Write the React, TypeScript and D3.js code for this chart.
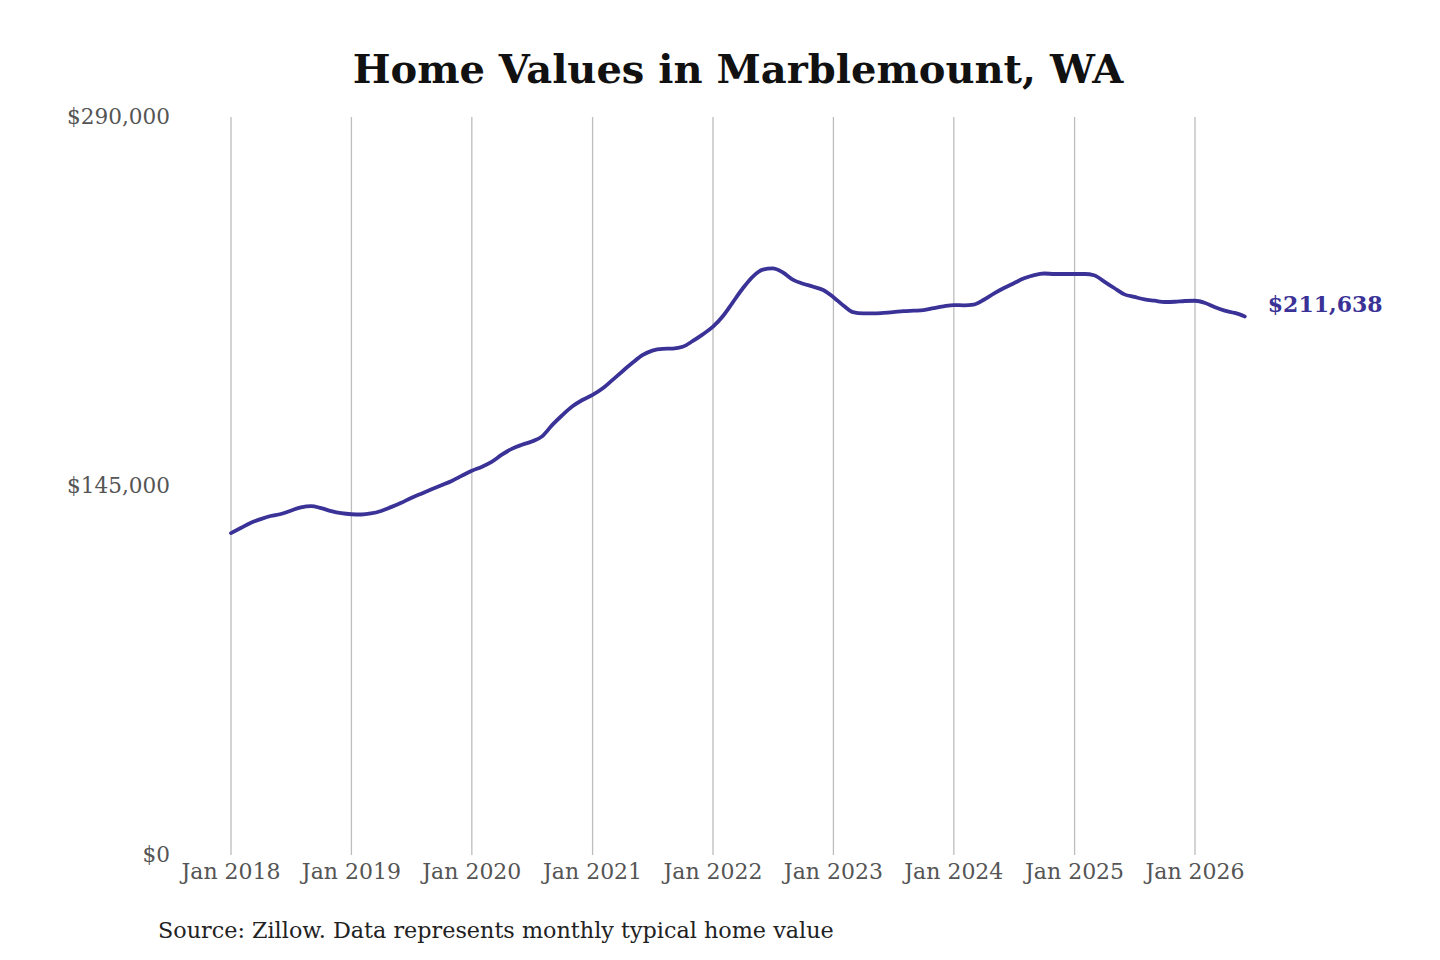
import { useRef, useEffect } from "react";
import * as d3 from "d3";

// monthly typical home value, Jan 2018 .. Jun 2026
const startMonth = new Date(2018, 0, 1);
const homeValues = [
  126500, 128600, 130500, 132000, 133200, 134000, 135300, 136600, 137100, 136300,
  135100, 134300, 133900, 133800, 134200, 135200, 136700, 138400, 140300, 142000,
  143700, 145300, 147000, 149000, 151000, 152600, 154500, 157300, 159600, 161200,
  162500, 164500, 169000, 172800, 176300, 178800, 180800, 183400, 186500, 190000,
  193300, 196400, 198200, 198900, 199000, 199700, 202000, 204600, 207600, 211900,
  217000, 222600, 227200, 230000, 230500, 228900, 226000, 224500, 223300, 222000,
  219200, 215800, 213300, 212800, 212800, 213000, 213300, 213700, 213900, 214100,
  214900, 215600, 216100, 216000, 216300, 218200, 220600, 222800, 224700, 226600,
  227900, 228500, 228300, 228300, 228300, 228300, 227800, 225300, 222800, 220300,
  219300, 218300, 217800, 217300, 217400, 217700, 217800, 216900, 215300, 213900,
  213000, 211638,
];
const yTicks = [0, 145000, 290000];
const xTickYears = [2018, 2019, 2020, 2021, 2022, 2023, 2024, 2025, 2026];

const titleText = "Home Values in Marblemount, WA";
const sourceText = "Source: Zillow. Data represents monthly typical home value";

const App = () => {
  const svgRef = useRef<SVGSVGElement>(null);

  useEffect(() => {
    const width = 1440;
    const height = 960;
    const lineColor = "#3a3296";
    const font = "'DejaVu Serif', serif";

    const data = homeValues.map((v, i) => ({
      date: d3.timeMonth.offset(startMonth, i),
      value: v,
    }));

    const svg = d3.select(svgRef.current);
    svg.selectAll("*").remove();
    svg.attr("width", width).attr("height", height).attr("viewBox", `0 0 ${width} ${height}`);

    svg.append("rect").attr("width", width).attr("height", height).attr("fill", "#ffffff");

    const x = d3
      .scaleTime()
      .domain([new Date(2018, 0, 1), new Date(2026, 0, 1)])
      .range([231, 1195]);

    const y = d3.scaleLinear().domain([0, 290000]).range([855, 117]);

    // vertical gridlines
    svg
      .append("g")
      .selectAll("line")
      .data(xTickYears)
      .join("line")
      .attr("x1", (d) => x(new Date(d, 0, 1)))
      .attr("x2", (d) => x(new Date(d, 0, 1)))
      .attr("y1", y(290000))
      .attr("y2", y(0))
      .attr("stroke", "#bdbdbd")
      .attr("stroke-width", 1.3);

    // x labels
    svg
      .append("g")
      .selectAll("text")
      .data(xTickYears)
      .join("text")
      .attr("x", (d) => x(new Date(d, 0, 1)))
      .attr("y", 879)
      .attr("text-anchor", "middle")
      .attr("font-family", font)
      .attr("font-size", 22)
      .attr("fill", "#555")
      .text((d) => `Jan ${d}`);

    // y labels
    svg
      .append("g")
      .selectAll("text")
      .data(yTicks)
      .join("text")
      .attr("x", 170)
      .attr("y", (d) => y(d) + 7)
      .attr("text-anchor", "end")
      .attr("font-family", font)
      .attr("font-size", 21.6)
      .attr("fill", "#555")
      .text((d) => `$${d3.format(",")(d)}`);

    const line = d3
      .line<{ date: Date; value: number }>()
      .x((d) => x(d.date))
      .y((d) => y(d.value))
      .curve(d3.curveMonotoneX);

    svg
      .append("path")
      .datum(data)
      .attr("d", line)
      .attr("fill", "none")
      .attr("stroke", lineColor)
      .attr("stroke-width", 3.8)
      .attr("stroke-linejoin", "round")
      .attr("stroke-linecap", "round");

    const last = data[data.length - 1];
    svg
      .append("text")
      .attr("x", x(last.date) + 23)
      .attr("y", y(last.value) - 4)
      .attr("font-family", font)
      .attr("font-size", 22)
      .attr("font-weight", "bold")
      .attr("fill", lineColor)
      .text(`$${d3.format(",")(last.value)}`);

    svg
      .append("text")
      .attr("x", 738)
      .attr("y", 83)
      .attr("text-anchor", "middle")
      .attr("font-family", font)
      .attr("font-size", 40)
      .attr("font-weight", "bold")
      .attr("fill", "#111")
      .text(titleText);

    svg
      .append("text")
      .attr("x", 158)
      .attr("y", 938)
      .attr("font-family", font)
      .attr("font-size", 22.3)
      .attr("fill", "#222")
      .text(sourceText);
  }, []);

  return (
    <div style={{ position: "absolute", top: 0, left: 0 }}>
      <svg ref={svgRef} style={{ display: "block" }}></svg>
    </div>
  );
};

export default App;
